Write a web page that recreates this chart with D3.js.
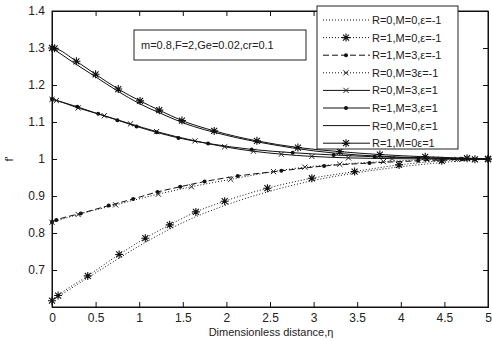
<!DOCTYPE html>
<html>
<head>
<meta charset="utf-8">
<script src="https://cdn.jsdelivr.net/npm/d3@7"></script>
<style>
  body { margin: 0; background: #fff; }
  svg text { font-family: "Liberation Sans", Arial, sans-serif; fill: #222; }
</style>
</head>
<body>
<div class="chart"></div>
<script>
// Tick values
const xTicks = [0, 0.5, 1, 1.5, 2, 2.5, 3, 3.5, 4, 4.5, 5]
const yTicks = [0.7, 0.8, 0.9, 1, 1.1, 1.2, 1.3, 1.4]

// Series names (legend order)
const seriesNames = [
  "R=0,M=0,\u03b5=-1",
  "R=1,M=0,\u03b5=-1",
  "R=1,M=3,\u03b5=-1",
  "R=0,M=3\u03b5=-1",
  "R=0,M=3,\u03b5=1",
  "R=1,M=3,\u03b5=1",
  "R=0,M=0,\u03b5=1",
  "R=1,M=0\u03b5=1"
]

// Series values
const s1x = [0, 0.25, 0.5, 0.75, 1, 1.25, 1.5, 2, 2.5, 3, 3.5, 4, 4.5, 5]
const s1y = [0.617, 0.655, 0.692, 0.729, 0.765, 0.798, 0.828, 0.876, 0.913, 0.942, 0.963, 0.979, 0.991, 1.0]

const s2x = [0, 0.07, 0.41, 0.77, 1.07, 1.35, 1.65, 1.98, 2.47, 2.98, 3.47, 3.98, 4.47, 4.85, 5]
const s2y = [0.617, 0.631, 0.684, 0.742, 0.786, 0.822, 0.857, 0.886, 0.921, 0.948, 0.966, 0.984, 0.995, 0.999, 1.0]

const s3x = [0, 0.05, 0.33, 0.65, 0.93, 1.21, 1.47, 1.75, 2.13, 2.63, 3.12, 3.64, 4.2, 4.7, 5]
const s3y = [0.83, 0.835, 0.853, 0.874, 0.892, 0.911, 0.925, 0.939, 0.954, 0.968, 0.981, 0.989, 0.995, 0.999, 1.0]

const s4x = [0, 0.3, 0.73, 1.22, 1.6, 2.05, 2.54, 2.9, 3.3, 3.8, 4.3, 4.65, 5]
const s4y = [0.829, 0.85, 0.876, 0.905, 0.925, 0.945, 0.966, 0.978, 0.986, 0.993, 0.998, 0.999, 1.0]

const s5x = [0, 0.05, 0.3, 0.6, 0.9, 1.2, 1.64, 1.98, 2.31, 2.63, 2.98, 3.4, 3.9, 4.4, 4.85, 5]
const s5y = [1.161, 1.158, 1.138, 1.117, 1.095, 1.074, 1.049, 1.033, 1.021, 1.013, 1.007, 1.003, 1.001, 1.0, 1.0, 1.0]

const s6x = [0, 0.29, 0.53, 0.75, 0.97, 1.2, 1.45, 1.79, 2.29, 2.76, 3.23, 3.7, 4.2, 4.7, 5]
const s6y = [1.162, 1.141, 1.122, 1.105, 1.088, 1.072, 1.057, 1.042, 1.026, 1.017, 1.011, 1.006, 1.003, 1.001, 1.0]

const s7x = [0, 0.25, 0.5, 0.75, 1, 1.25, 1.5, 2, 2.5, 3, 3.5, 4, 4.5, 5]
const s7y = [1.30, 1.26, 1.222, 1.184, 1.15, 1.123, 1.098, 1.064, 1.04, 1.022, 1.011, 1.005, 1.002, 1.0]

const s8x = [0, 0.03, 0.28, 0.5, 0.76, 1.01, 1.23, 1.49, 1.86, 2.35, 2.82, 3.3, 3.76, 4.28, 4.76, 5]
const s8y = [1.30, 1.299, 1.264, 1.229, 1.189, 1.157, 1.132, 1.104, 1.076, 1.049, 1.031, 1.02, 1.012, 1.006, 1.002, 1.0]

const seriesX = [s1x, s2x, s3x, s4x, s5x, s6x, s7x, s8x]
const seriesY = [s1y, s2y, s3y, s4y, s5y, s6y, s7y, s8y]

// Line styles and markers per series
const dashes = ["1,2", "1,2", "6,3", "1,2", null, null, null, null]
const markers = ["none", "star", "dot", "x", "x", "dot", "none", "star"]

const annotation = "m=0.8,F=2,Ge=0.02,cr=0.1"

const W = 492, H = 341
const plot = {left: 52, right: 488, top: 11, bottom: 307}

const svg = d3.select(".chart").append("svg")
    .attr("width", W)
    .attr("height", H)

const xScale = d3.scaleLinear().domain([0, 5]).range([plot.left, plot.right])
const yScale = d3.scaleLinear().domain([0.6, 1.4]).range([plot.bottom, plot.top])

// Frame
svg.append("rect")
    .attr("x", plot.left).attr("y", plot.top)
    .attr("width", plot.right - plot.left).attr("height", plot.bottom - plot.top)
    .attr("fill", "none").attr("stroke", "#111").attr("stroke-width", 1)

// Axes with inward ticks on all four sides
const fmt = d => d3.format("~g")(d)
svg.append("g")
    .attr("transform", `translate(0,${plot.bottom})`)
    .call(d3.axisBottom(xScale).tickValues(xTicks).tickSize(-5).tickPadding(6).tickFormat(fmt))
svg.append("g")
    .attr("transform", `translate(0,${plot.top})`)
    .call(d3.axisTop(xScale).tickValues(xTicks).tickSize(-5).tickFormat(""))
svg.append("g")
    .attr("transform", `translate(${plot.left},0)`)
    .call(d3.axisLeft(yScale).tickValues(yTicks).tickSize(-5).tickPadding(7).tickFormat(fmt))
svg.append("g")
    .attr("transform", `translate(${plot.right},0)`)
    .call(d3.axisRight(yScale).tickValues(yTicks).tickSize(-5).tickFormat(""))

svg.selectAll(".domain").attr("stroke", "#111")
svg.selectAll(".tick line").attr("stroke", "#111")
svg.selectAll(".tick text")
    .style("font-family", "Liberation Sans, Arial, sans-serif")
    .style("font-size", "12px")
    .attr("fill", "#333")

// Axis titles
svg.append("text")
    .attr("x", 271)
    .attr("y", 336)
    .attr("text-anchor", "middle")
    .style("font-size", "11px")
    .text("Dimensionless distance,\u03b7")

svg.append("text")
    .attr("transform", `translate(13,${yScale(1)}) rotate(-90)`)
    .attr("text-anchor", "middle")
    .style("font-size", "11px")
    .text("f'")

// Marker drawing
function drawMarker(g, type, cx, cy) {
  if (type === "star") {
    const r = 4
    g.append("path")
        .attr("d", `M${cx - r},${cy}H${cx + r}M${cx},${cy - r}V${cy + r}` +
                   `M${cx - 3},${cy - 3}L${cx + 3},${cy + 3}M${cx - 3},${cy + 3}L${cx + 3},${cy - 3}`)
        .attr("stroke", "#111").attr("stroke-width", 1.1).attr("fill", "none")
  } else if (type === "x") {
    const r = 2.6
    g.append("path")
        .attr("d", `M${cx - r},${cy - r}L${cx + r},${cy + r}M${cx - r},${cy + r}L${cx + r},${cy - r}`)
        .attr("stroke", "#222").attr("stroke-width", 1).attr("fill", "none")
  } else if (type === "dot") {
    g.append("circle").attr("cx", cx).attr("cy", cy).attr("r", 2)
        .attr("fill", "#111")
  }
}

// Lines
const line = d3.line()
    .x(d => xScale(d[0]))
    .y(d => yScale(d[1]))
    .curve(d3.curveMonotoneX)

const curves = svg.append("g")
seriesX.forEach((xs, i) => {
  const pts = xs.map((x, j) => [x, seriesY[i][j]])
  curves.append("path")
      .attr("d", line(pts))
      .attr("fill", "none")
      .attr("stroke", "#111")
      .attr("stroke-width", 1)
      .attr("stroke-dasharray", dashes[i])
  if (markers[i] !== "none") {
    pts.forEach(p => drawMarker(curves, markers[i], xScale(p[0]), yScale(p[1])))
  }
})

// Annotation box
const ann = svg.append("g")
ann.append("rect")
    .attr("x", 134).attr("y", 30).attr("width", 172).attr("height", 30)
    .attr("fill", "#fff").attr("stroke", "#222").attr("stroke-width", 1)
ann.append("text")
    .attr("x", 141).attr("y", 49)
    .style("font-size", "11px")
    .text(annotation)

// Legend
const legend = svg.append("g").attr("class", "legend")
legend.append("rect")
    .attr("x", 317).attr("y", 6).attr("width", 141).attr("height", 143)
    .attr("fill", "#fff").attr("stroke", "#222").attr("stroke-width", 1)

seriesNames.forEach((name, i) => {
  const yy = 20 + i * 17.6
  legend.append("line")
      .attr("x1", 323).attr("x2", 370).attr("y1", yy).attr("y2", yy)
      .attr("stroke", "#111").attr("stroke-width", 1)
      .attr("stroke-dasharray", dashes[i])
  drawMarker(legend, markers[i], 346, yy)
  legend.append("text")
      .attr("x", 372).attr("y", yy + 4)
      .style("font-size", "11px")
      .text(name)
})
</script>
</body>
</html>
